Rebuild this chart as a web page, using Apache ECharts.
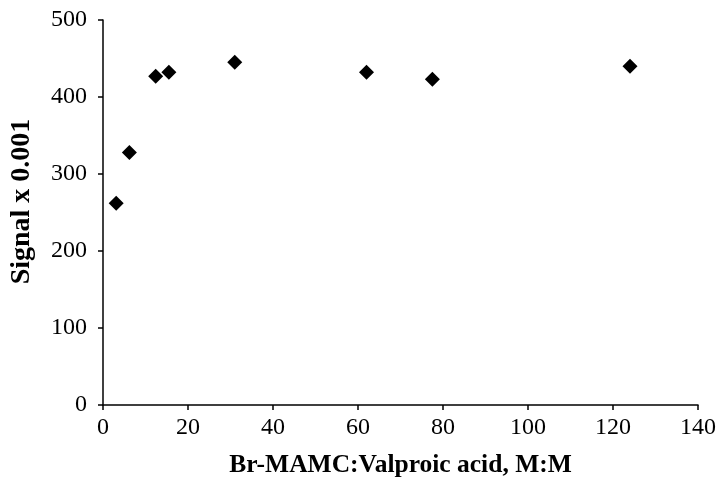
<!DOCTYPE html>
<html>
<head>
<meta charset="utf-8">
<script src="https://cdn.jsdelivr.net/npm/echarts@6/dist/echarts.min.js"></script>
<style>html,body{margin:0;padding:0;background:#fff}#c{width:720px;height:497px}</style>
</head>
<body>
<div id="c"></div>
<script>
const ratioX = [3.1, 6.2, 12.4, 15.5, 31, 62, 77.5, 124];
const signalY = [262, 328, 427, 432, 445, 432, 423, 440];
const xTitle = 'Br-MAMC:Valproic acid, M:M';
const yTitle = 'Signal x 0.001';

const chart = echarts.init(document.getElementById('c'), null, {renderer: 'canvas'});
const font = 'Liberation Serif';
chart.setOption({
  animation: false,
  backgroundColor: '#fff',
  grid: {left: 101, right: 22, top: 20, bottom: 92, containLabel: false},
  xAxis: {
    type: 'value', min: 0, max: 140, interval: 20,
    name: xTitle, nameLocation: 'middle', nameGap: 47,
    nameTextStyle: {fontFamily: font, fontWeight: 'bold', fontSize: 25.5, color: '#000'},
    axisLine: {show: true, lineStyle: {color: '#000', width: 1.5}},
    axisTick: {show: true, length: 5, lineStyle: {color: '#000', width: 1.5}},
    axisLabel: {fontFamily: font, fontSize: 24, color: '#000', margin: 11},
    splitLine: {show: false}
  },
  yAxis: {
    type: 'value', min: 0, max: 500, interval: 100,
    name: yTitle, nameLocation: 'middle', nameGap: 67, nameRotate: 90,
    nameTextStyle: {fontFamily: font, fontWeight: 'bold', fontSize: 28, color: '#000', padding: [0, 0, 0, 22]},
    axisLine: {show: true, lineStyle: {color: '#000', width: 1.5}},
    axisTick: {show: true, length: 5, lineStyle: {color: '#000', width: 1.5}},
    axisLabel: {fontFamily: font, fontSize: 24, color: '#000', margin: 16},
    splitLine: {show: false}
  },
  series: [{
    type: 'scatter',
    symbol: 'diamond',
    symbolSize: 15,
    itemStyle: {color: '#000', opacity: 1},
    data: ratioX.map((x, i) => [x, signalY[i]])
  }]
});
</script>
</body>
</html>
